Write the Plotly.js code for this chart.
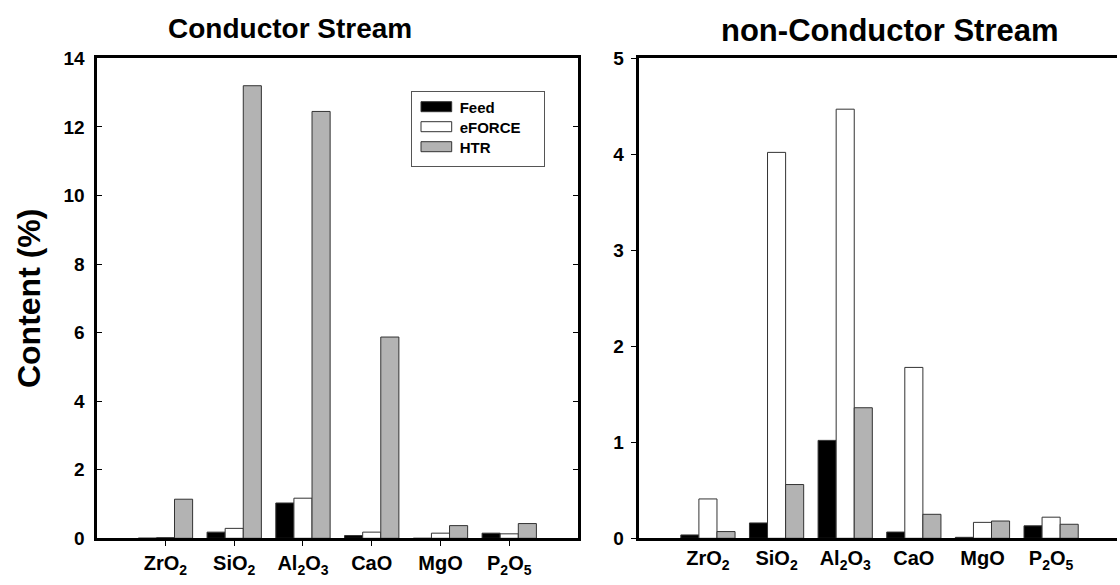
<!DOCTYPE html>
<html>
<head>
<meta charset="utf-8">
<script src="https://cdn.plot.ly/plotly-3.0.1.min.js"></script>
<style>html,body{margin:0;padding:0;background:#fff;}#chart{width:1120px;height:585px;}</style>
</head>
<body>
<div id="chart"></div>
<script>
const categories = ['ZrO<sub>2</sub>', 'SiO<sub>2</sub>', 'Al<sub>2</sub>O<sub>3</sub>', 'CaO', 'MgO', 'P<sub>2</sub>O<sub>5</sub>'];
const seriesNames = ['Feed', 'eFORCE', 'HTR'];

// Conductor Stream (%)
const condFeed   = [0.005, 0.18, 1.03, 0.08, 0.0, 0.15];
const condEforce = [0.02, 0.29, 1.17, 0.18, 0.15, 0.13];
const condHtr    = [1.14, 13.2, 12.45, 5.87, 0.37, 0.43];

// non-Conductor Stream (%)
const nonFeed   = [0.035, 0.16, 1.02, 0.065, 0.01, 0.13];
const nonEforce = [0.41, 4.02, 4.47, 1.78, 0.166, 0.22];
const nonHtr    = [0.07, 0.56, 1.36, 0.25, 0.18, 0.146];

const fills = ['#000000', '#ffffff', '#b3b3b3'];
const edge = '#333333';
const FONT = 'Liberation Sans, Arial, Helvetica, sans-serif';

function bar(name, y, i, xa, ya, legend) {
  return {
    type: 'bar', name: name, x: categories, y: y, xaxis: xa, yaxis: ya,
    marker: {color: fills[i], line: {color: edge, width: 1}},
    showlegend: legend, hoverinfo: 'x+y+name'
  };
}

const data = [
  bar(seriesNames[0], condFeed, 0, 'x', 'y', true),
  bar(seriesNames[1], condEforce, 1, 'x', 'y', true),
  bar(seriesNames[2], condHtr, 2, 'x', 'y', true),
  bar(seriesNames[0], nonFeed, 0, 'x2', 'y2', false),
  bar(seriesNames[1], nonEforce, 1, 'x2', 'y2', false),
  bar(seriesNames[2], nonHtr, 2, 'x2', 'y2', false)
];

const W = 1120, H = 585;
const px = v => v / W, py = v => 1 - v / H;
const yDom = [py(538.3), py(58.3)];
const tickFont = {family: FONT, size: 19, color: '#000', weight: 'bold'};
const xTickFont = {family: FONT, size: 20, color: '#000', weight: 'bold'};

const layout = {
  width: W, height: H,
  margin: {l: 0, r: 0, t: 0, b: 0},
  paper_bgcolor: '#fff', plot_bgcolor: '#fff',
  barmode: 'group', bargap: 0.21, bargroupgap: 0,
  font: {family: FONT, color: '#000'},
  xaxis: {
    domain: [px(96.7), px(578)], anchor: 'y', type: 'category', range: [-1, 6],
    showline: true, linewidth: 3, linecolor: '#000', mirror: true,
    ticks: 'outside', ticklen: 5, tickwidth: 1, tickcolor: '#000',
    tickfont: xTickFont, showgrid: false, zeroline: false, fixedrange: true
  },
  yaxis: {
    domain: yDom, anchor: 'x', range: [0, 14], dtick: 2, tick0: 0,
    showline: true, linewidth: 3, linecolor: '#000', mirror: 'ticks',
    ticks: 'inside', ticklen: 5, tickwidth: 1, tickcolor: '#000', ticksuffix: '\u00a0',
    tickfont: tickFont, showgrid: false, zeroline: false, fixedrange: true,
    title: {text: 'Content (%)', font: {family: FONT, size: 32, color: '#000', weight: 'bold'}, standoff: 14}
  },
  xaxis2: {
    domain: [px(639.3), px(1117)], anchor: 'y2', type: 'category', range: [-1, 5.96],
    showline: true, linewidth: 3, linecolor: '#000', mirror: true,
    ticks: '', tickfont: xTickFont, showgrid: false, zeroline: false, fixedrange: true
  },
  xaxis3: {
    overlaying: 'x2', anchor: 'y2', type: 'linear', range: [-1, 5.96],
    tickmode: 'array', tickvals: [0, 1, 2, 3, 4], showticklabels: false,
    ticks: 'outside', ticklen: 6, tickwidth: 1, tickcolor: '#000',
    showline: false, showgrid: false, zeroline: false, fixedrange: true
  },
  yaxis2: {
    domain: yDom, anchor: 'x2', range: [0, 5], dtick: 1, tick0: 0,
    showline: true, linewidth: 3, linecolor: '#000', mirror: false,
    ticks: 'outside', ticklen: 5, tickwidth: 1, tickcolor: '#000', ticksuffix: '\u2009',
    tickfont: tickFont, showgrid: false, zeroline: false, fixedrange: true
  },
  yaxis3: {
    overlaying: 'y2', anchor: 'x2', side: 'right', range: [0, 14], dtick: 2, tick0: 0,
    showticklabels: false, ticks: 'inside', ticklen: 5, tickwidth: 1, tickcolor: '#000',
    showline: true, linewidth: 1.5, linecolor: '#000',
    showgrid: false, zeroline: false, fixedrange: true
  },
  legend: {
    x: px(410.7), y: py(90.7), xanchor: 'left', yanchor: 'top',
    bgcolor: '#fff', bordercolor: '#555', borderwidth: 1,
    font: {family: FONT, size: 15, color: '#000', weight: 'bold'},
    itemwidth: 30, tracegroupgap: 0, traceorder: 'normal'
  },
  annotations: [
    {text: 'Conductor Stream', xref: 'paper', yref: 'paper', x: px(290), y: py(28),
     xanchor: 'center', yanchor: 'middle', showarrow: false,
     font: {family: FONT, size: 28, color: '#000', weight: 'bold'}},
    {text: 'non-Conductor Stream', xref: 'paper', yref: 'paper', x: px(890), y: py(30),
     xanchor: 'center', yanchor: 'middle', showarrow: false,
     font: {family: FONT, size: 31, color: '#000', weight: 'bold'}}
  ]
};

Plotly.newPlot('chart', data, layout, {displayModeBar: false, staticPlot: true}).then(function (gd) {
  // restyle the legend to the original's flat swatches, wider box and 20px rows
  const leg = gd.querySelector('.legend');
  if (!leg) return;
  leg.querySelectorAll('.legendpoints path').forEach(function (p) {
    p.setAttribute('d', 'M-10.7,-5H20V5H-10.7Z');
  });
  leg.querySelectorAll('text.legendtext').forEach(function (t) {
    t.setAttribute('x', '48');
  });
  leg.querySelectorAll('g.traces').forEach(function (g, i) {
    g.setAttribute('transform', 'translate(1,' + (16 + 20 * i) + ')');
  });
  const bg = leg.querySelector('rect.bg');
  if (bg) { bg.setAttribute('width', '133'); bg.setAttribute('height', '75.5'); }
  const clip = document.querySelectorAll('clipPath[id*="legend"] rect');
  clip.forEach(function (r) { r.setAttribute('width', '135'); r.setAttribute('height', '78'); });
});
</script>
</body>
</html>
